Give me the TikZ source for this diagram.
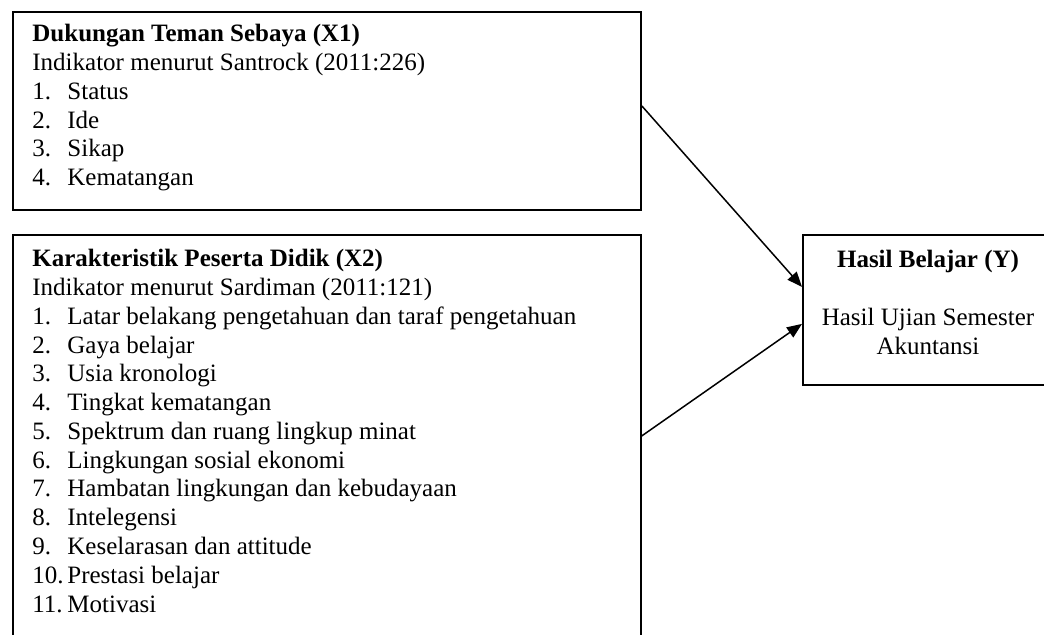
\documentclass[tikz,border=0pt]{standalone}
\usepackage{fontspec}
\setmainfont{Liberation Serif}
\usetikzlibrary{arrows.meta}
\newcommand{\itm}[2]{\makebox[17.5pt][l]{#1}#2}
\begin{document}
\begin{tikzpicture}[x=0.5pt,y=-0.5pt,
  box/.style={draw, line width=0.9pt, inner sep=0pt, anchor=north west},
  txt/.style={anchor=base west, inner sep=0pt, font=\fontsize{12.5}{14.4}\selectfont},
  ctxt/.style={anchor=base, inner sep=0pt, font=\fontsize{12.5}{14.4}\selectfont},
  arr/.style={line width=0.75pt, -{Triangle[length=7.5pt,width=6pt]}}]
\useasboundingbox (0,0) rectangle (1044,635);
\clip (0,0) rectangle (1044,635);
% boxes
\node[box, minimum width=314pt, minimum height=99pt] (b1) at (12,11) {};
\node[box, minimum width=314pt, minimum height=250pt] (b2) at (12,234) {};
\node[box, minimum width=126pt, minimum height=75pt] (b3) at (802,234) {};
% box 1 text
\node[txt] (t1) at (32,42) {\textbf{Dukungan Teman Sebaya (X1)}};
\node[txt] (t1i) at (32,70.75) {Indikator menurut Santrock (2011:226)};
\foreach \n/\t [count=\i] in {1./Status, 2./Ide, 3./Sikap, 4./Kematangan}
  \node[txt] (t1-\i) at (32,{70.75+28.75*\i}) {\itm{\n}{\t}};
% box 2 text
\node[txt] (t2) at (32,267) {\textbf{Karakteristik Peserta Didik (X2)}};
\node[txt] (t2i) at (32,295.75) {Indikator menurut Sardiman (2011:121)};
\foreach \n/\t [count=\i] in {1./Latar belakang pengetahuan dan taraf pengetahuan,
  2./Gaya belajar, 3./Usia kronologi, 4./Tingkat kematangan,
  5./Spektrum dan ruang lingkup minat, 6./Lingkungan sosial ekonomi,
  7./Hambatan lingkungan dan kebudayaan, 8./Intelegensi,
  9./Keselarasan dan attitude, 10./Prestasi belajar, 11./Motivasi}
  \node[txt] (t2-\i) at (32,{295.75+28.75*\i}) {\itm{\n}{\t}};
% box 3 text
\node[ctxt] (t3) at (928,268) {\textbf{Hasil Belajar (Y)}};
\node[ctxt] (t3a) at (928,326) {Hasil Ujian Semester};
\node[ctxt] (t3b) at (928,355) {Akuntansi};
% arrows
\draw[arr] ([yshift=2.5pt]b1.east) -- ([yshift=11.5pt]b3.west);
\draw[arr] ([yshift=24.5pt]b2.east) -- ([yshift=-7pt]b3.west);
\end{tikzpicture}
\end{document}
